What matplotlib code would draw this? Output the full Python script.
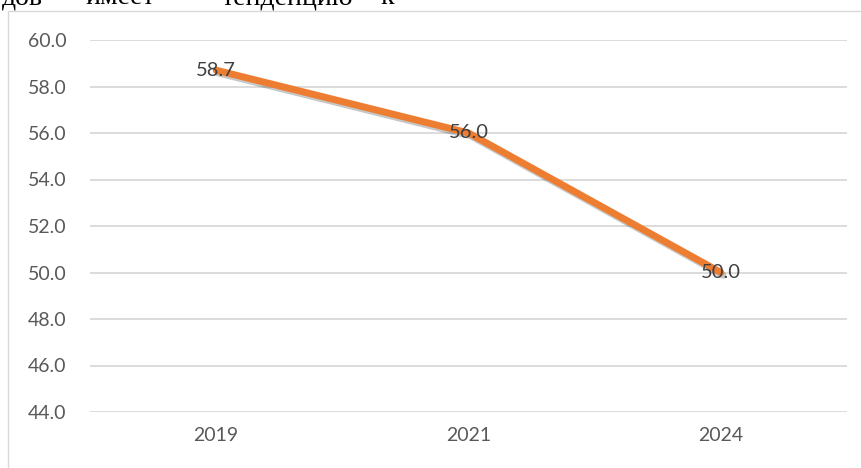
import matplotlib.pyplot as plt
import matplotlib.patheffects as pe
from matplotlib.patches import Rectangle

# data
years = ["2019", "2021", "2024"]
values = [58.7, 56.0, 50.0]
y_ticks = [44, 46, 48, 50, 52, 54, 56, 58, 60]

# cropped line of body text above the chart (Word document)
top_words = ["дов", "имеет", "тенденцию", "к"]
top_word_x = [43, 85, 222, 380]  # px, left edges (first one: right edge)

W, H = 862, 468
fig = plt.figure(figsize=(W / 100, H / 100), dpi=100)
fig.patch.set_facecolor("white")

# chart frame (only left and top are visible in the crop)
fig.add_artist(Rectangle((8 / W, -0.1), 1.2, 1.1 - 11 / H, transform=fig.transFigure,
                         fill=False, edgecolor="#D9D9D9", linewidth=1.0))

ax = fig.add_axes([90 / W, (H - 412) / H, (847 - 90) / W, (412 - 40) / H])
x = list(range(len(years)))
ax.plot(x, values, color="#ED7D31", linewidth=5.0, solid_capstyle="round",
        path_effects=[pe.SimpleLineShadow(offset=(1.5, -2), shadow_color="black", alpha=0.22),
                      pe.Normal()], zorder=3)

for xi, v in zip(x, values):
    ax.text(xi, v, f"{v:.1f}", ha="center", va="center", fontsize=14.5,
            color="#404040", family="Lato", zorder=4)

ax.set_xlim(-0.5, len(years) - 0.5)
ax.set_ylim(44, 60)
ax.set_xticks(x)
ax.set_xticklabels(years)
ax.set_yticks(y_ticks)
ax.set_yticklabels([f"{t:.1f}" for t in y_ticks])
ax.yaxis.grid(True, color="#D9D9D9", linewidth=1.3)
ax.set_axisbelow(True)
for s in ax.spines.values():
    s.set_visible(False)
ax.tick_params(length=0, labelsize=14, colors="#595959", pad=11)
ax.tick_params(axis="y", pad=17)
for lab in ax.get_xticklabels() + ax.get_yticklabels():
    lab.set_family("Lato")

for i, (word, px) in enumerate(zip(top_words, top_word_x)):
    fig.text(px / W, 1 - 4 / H, word, ha="right" if i == 0 else "left", va="baseline",
             fontsize=20, family="Liberation Serif", color="black")

fig.savefig("out.png", dpi=100)
